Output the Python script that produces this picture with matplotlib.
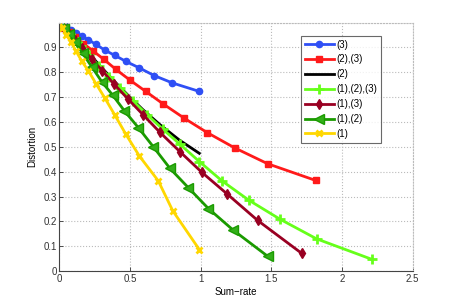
import matplotlib
matplotlib.use('Agg')
import matplotlib.pyplot as plt

# 数据
r_3 = [0, 0.02, 0.05, 0.083, 0.118, 0.158, 0.205, 0.26, 0.321, 0.392, 0.47, 0.564, 0.67, 0.80, 0.99]
d_3 = [1, 0.995, 0.985, 0.972, 0.959, 0.946, 0.93, 0.912, 0.889, 0.868, 0.844, 0.818, 0.787, 0.757, 0.723]

r_23 = [0, 0.035, 0.07, 0.113, 0.17, 0.236, 0.314, 0.399, 0.498, 0.611, 0.736, 0.884, 1.047, 1.24, 1.474, 1.813]
d_23 = [1, 0.98, 0.962, 0.94, 0.915, 0.887, 0.852, 0.812, 0.769, 0.723, 0.672, 0.615, 0.557, 0.496, 0.432, 0.365]

r_2 = [0, 0.035, 0.07, 0.11, 0.16, 0.23, 0.30, 0.39, 0.49, 0.59, 0.71, 0.85, 0.99]
d_2 = [1, 0.978, 0.957, 0.934, 0.905, 0.862, 0.818, 0.763, 0.705, 0.65, 0.59, 0.527, 0.474]

r_123 = [0, 0.03, 0.06, 0.10, 0.15, 0.21, 0.28, 0.35, 0.43, 0.52, 0.62, 0.73, 0.85, 0.99, 1.151, 1.339, 1.561, 1.82, 2.209]
d_123 = [1, 0.98, 0.962, 0.937, 0.906, 0.868, 0.825, 0.783, 0.737, 0.685, 0.63, 0.572, 0.512, 0.441, 0.363, 0.286, 0.209, 0.13, 0.048]

r_13 = [0, 0.035, 0.07, 0.11, 0.161, 0.231, 0.304, 0.389, 0.488, 0.594, 0.712, 0.854, 1.007, 1.188, 1.403, 1.716]
d_13 = [1, 0.978, 0.955, 0.93, 0.899, 0.852, 0.806, 0.751, 0.691, 0.628, 0.558, 0.48, 0.398, 0.31, 0.204, 0.071]

r_12 = [0, 0.03, 0.065, 0.11, 0.165, 0.229, 0.30, 0.377, 0.46, 0.559, 0.665, 0.783, 0.912, 1.054, 1.23, 1.476]
d_12 = [1, 0.98, 0.955, 0.92, 0.876, 0.822, 0.762, 0.708, 0.645, 0.577, 0.50, 0.413, 0.336, 0.252, 0.165, 0.059]

r_1 = [0, 0.02, 0.05, 0.083, 0.118, 0.158, 0.205, 0.26, 0.323, 0.392, 0.47, 0.566, 0.70, 0.802, 0.99]
d_1 = [1, 0.98, 0.95, 0.92, 0.885, 0.845, 0.806, 0.753, 0.695, 0.628, 0.551, 0.463, 0.363, 0.243, 0.087]

labels = ['(3)', '(2),(3)', '(2)', '(1),(2),(3)', '(1),(3)', '(1),(2)', '(1)']

plt.rcParams['font.family'] = ['Liberation Sans', 'DejaVu Sans']
plt.rcParams['font.size'] = 7

fig = plt.figure(figsize=(4.57, 3.05), dpi=100)
ax = fig.add_axes([0.13, 0.111, 0.773, 0.815])

lw = 2
ax.plot(r_3, d_3, '-o', color='#2f4ff5', lw=lw, ms=4.5, label=labels[0])
ax.plot(r_23, d_23, '-s', color='#ff1a1a', lw=lw, ms=4.5, label=labels[1])
ax.plot(r_2, d_2, '-', color='black', lw=lw, label=labels[2])
ax.plot(r_123, d_123, '-+', color='#66ff1a', lw=lw, ms=7, mew=2, label=labels[3])
ax.plot(r_13, d_13, '-d', color='#990022', lw=lw, ms=5, label=labels[4])
ax.plot(r_12, d_12, '-<', color='#1a9a00', lw=lw, ms=6.5, mfc='#33b01a', label=labels[5])
ax.plot(r_1, d_1, '-x', color='#ffd700', lw=lw, ms=5, mew=2, label=labels[6])

ax.set_xlim(0, 2.5)
ax.set_ylim(0, 1)
ax.set_xticks([0, 0.5, 1, 1.5, 2, 2.5])
ax.set_xticklabels(['0', '0.5', '1', '1.5', '2', '2.5'])
ax.set_yticks([0, 0.1, 0.2, 0.3, 0.4, 0.5, 0.6, 0.7, 0.8, 0.9, 1.0])
ax.set_yticklabels(['0', '0.1', '0.2', '0.3', '0.4', '0.5', '0.6', '0.7', '0.8', '0.9', ''])
ax.tick_params(direction='in', length=3, width=0.6, colors='#333333', pad=2)
ax.grid(True, linestyle=':', color='#bbbbbb', lw=0.8)
for s in ['top', 'right']:
    ax.spines[s].set_linestyle(':')
    ax.spines[s].set_color('#bbbbbb')
for s in ['left', 'bottom']:
    ax.spines[s].set_color('#444444')
    ax.spines[s].set_linewidth(0.8)

ax.set_xlabel('Sum\u2212rate', labelpad=2)
ax.set_ylabel('Distortion', labelpad=4)

leg = ax.legend(loc='upper left', bbox_to_anchor=(0.683, 0.947), fancybox=False,
                edgecolor='#444444', handlelength=3.0, labelspacing=0.5,
                borderpad=0.4, handletextpad=0.3, borderaxespad=0)
leg.get_frame().set_linewidth(0.8)

fig.savefig('out.png', dpi=100)
